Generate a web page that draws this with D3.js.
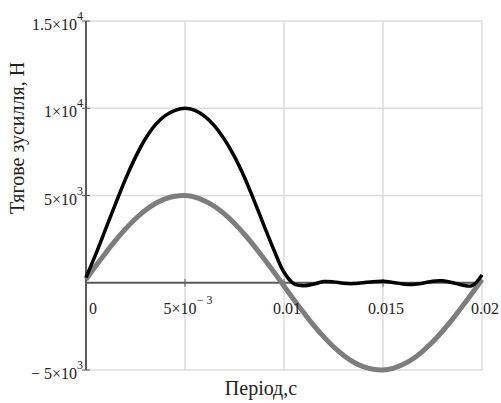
<!DOCTYPE html>
<html>
<head>
  <meta charset="utf-8">
  <style>
    body { margin: 0; background: #fff; }
    text { font-family: "Liberation Serif", "Times New Roman", serif; fill: #222; }
  </style>
</head>
<body>
  <div class="chart-container"></div>
  <script src="https://cdn.jsdelivr.net/npm/d3@7"></script>
  <script>
    // time, s
    var period = [0, 0.0005, 0.001, 0.0015, 0.002, 0.0025, 0.003, 0.0035, 0.004, 0.0045,
      0.005, 0.0055, 0.006, 0.0065, 0.007, 0.0075, 0.008, 0.0085, 0.009, 0.0095,
      0.01, 0.0105, 0.011, 0.0115, 0.012, 0.0125, 0.013, 0.0135, 0.014, 0.0145,
      0.015, 0.0155, 0.016, 0.0165, 0.017, 0.0175, 0.018, 0.0185, 0.019, 0.0195, 0.02];
    // black curve, N
    var forceTotal = [300, 1650, 3100, 4550, 5950, 7200, 8250, 9050, 9580, 9880,
      10000, 9880, 9540, 8980, 8200, 7230, 6050, 4680, 3250, 1850,
      600, -60, -170, -80, 70, 50, -30, -50, 0, 60,
      80, 20, -70, -100, -30, 90, 110, 10, -130, -170, 450];
    // grey curve, N
    var forceBase = [190, 970, 1720, 2440, 3090, 3670, 4150, 4540, 4810, 4960,
      5000, 4910, 4690, 4370, 3930, 3400, 2780, 2100, 1360, 600,
      -190, -970, -1720, -2440, -3090, -3670, -4150, -4540, -4810, -4960,
      -5000, -4910, -4690, -4370, -3930, -3400, -2780, -2100, -1360, -600, 190];

    var xTicks = [0, 0.005, 0.01, 0.015, 0.02];
    var xTickLabels = [['0', ''], ['5×10', '− 3'], ['0.01', ''], ['0.015', ''], ['0.02', '']];
    var yTicks = [-5000, 5000, 10000, 15000];
    var yTickLabels = [['− 5×10', '3'], ['5×10', '3'], ['1×10', '4'], ['1.5×10', '4']];

    var width = 501, height = 403;
    var margin = { top: 21, right: 19, bottom: 33, left: 86 };

    var x = d3.scaleLinear().domain([0, 0.02]).range([margin.left, width - margin.right]);
    var y = d3.scaleLinear().domain([-5000, 15000]).range([height - margin.bottom, margin.top]);

    var svg = d3.select('.chart-container').append('svg')
      .attr('width', width)
      .attr('height', height);

    // grid
    var grid = svg.append('g').attr('class', 'grid')
      .style('stroke', '#dcdcdc')
      .style('stroke-width', 1.5);

    grid.selectAll('.gx').data(xTicks.slice(1)).enter().append('line')
      .attr('x1', function (d) { return x(d); })
      .attr('x2', function (d) { return x(d); })
      .attr('y1', y(15000))
      .attr('y2', y(-5000));

    grid.selectAll('.gy').data(yTicks).enter().append('line')
      .attr('x1', x(0))
      .attr('x2', x(0.02))
      .attr('y1', function (d) { return y(d); })
      .attr('y2', function (d) { return y(d); });

    // axes
    var axes = svg.append('g').style('stroke', '#5a5a5a').style('stroke-width', 2);
    axes.append('line')
      .attr('x1', x(0)).attr('x2', x(0))
      .attr('y1', y(15000)).attr('y2', y(-5000));
    axes.append('line')
      .attr('x1', x(0)).attr('x2', x(0.02))
      .attr('y1', y(0)).attr('y2', y(0));

    axes.selectAll('.tx').data(xTicks.slice(1, 4)).enter().append('line')
      .style('stroke-width', 1)
      .attr('x1', function (d) { return x(d); })
      .attr('x2', function (d) { return x(d); })
      .attr('y1', y(0) - 4)
      .attr('y2', y(0) + 4);

    axes.selectAll('.ty').data(yTicks).enter().append('line')
      .style('stroke-width', 1)
      .attr('x1', x(0) - 4)
      .attr('x2', x(0) + 4)
      .attr('y1', function (d) { return y(d); })
      .attr('y2', function (d) { return y(d); });

    // curves
    var line = function (values) {
      return d3.line()
        .curve(d3.curveCatmullRom)
        .x(function (d, i) { return x(period[i]); })
        .y(function (d) { return y(d); })(values);
    };

    svg.append('path')
      .attr('d', line(forceBase))
      .style('fill', 'none')
      .style('stroke', '#7d7d7d')
      .style('stroke-width', 5);

    svg.append('path')
      .attr('d', line(forceTotal))
      .style('fill', 'none')
      .style('stroke', '#000')
      .style('stroke-width', 3.5);

    // y tick labels
    var yl = svg.selectAll('.yl').data(yTicks).enter().append('text')
      .attr('x', x(0) - 3)
      .attr('y', function (d) { return y(d) + 9; })
      .attr('text-anchor', 'end')
      .style('font-size', '16px');
    yl.append('tspan').text(function (d, i) { return yTickLabels[i][0]; });
    yl.append('tspan')
      .attr('dy', -10)
      .style('font-size', '12px')
      .text(function (d, i) { return yTickLabels[i][1]; });

    // x tick labels
    var xl = svg.selectAll('.xl').data(xTicks).enter().append('text')
      .attr('x', function (d, i) { return x(d) + (i === 0 ? 7 : 3); })
      .attr('y', y(0) + 31)
      .attr('text-anchor', 'middle')
      .style('font-size', '16px');
    xl.append('tspan').text(function (d, i) { return xTickLabels[i][0]; });
    xl.append('tspan')
      .attr('dy', -10)
      .style('font-size', '12px')
      .text(function (d, i) { return xTickLabels[i][1]; });

    // titles
    svg.append('text')
      .attr('transform', 'translate(24,' + 138 + ') rotate(-90)')
      .attr('text-anchor', 'middle')
      .style('font-size', '20px')
      .text('Тягове зусилля, Н');

    svg.append('text')
      .attr('x', 261)
      .attr('y', 395)
      .attr('text-anchor', 'middle')
      .style('font-size', '20px')
      .text('Період,с');
  </script>
</body>
</html>
